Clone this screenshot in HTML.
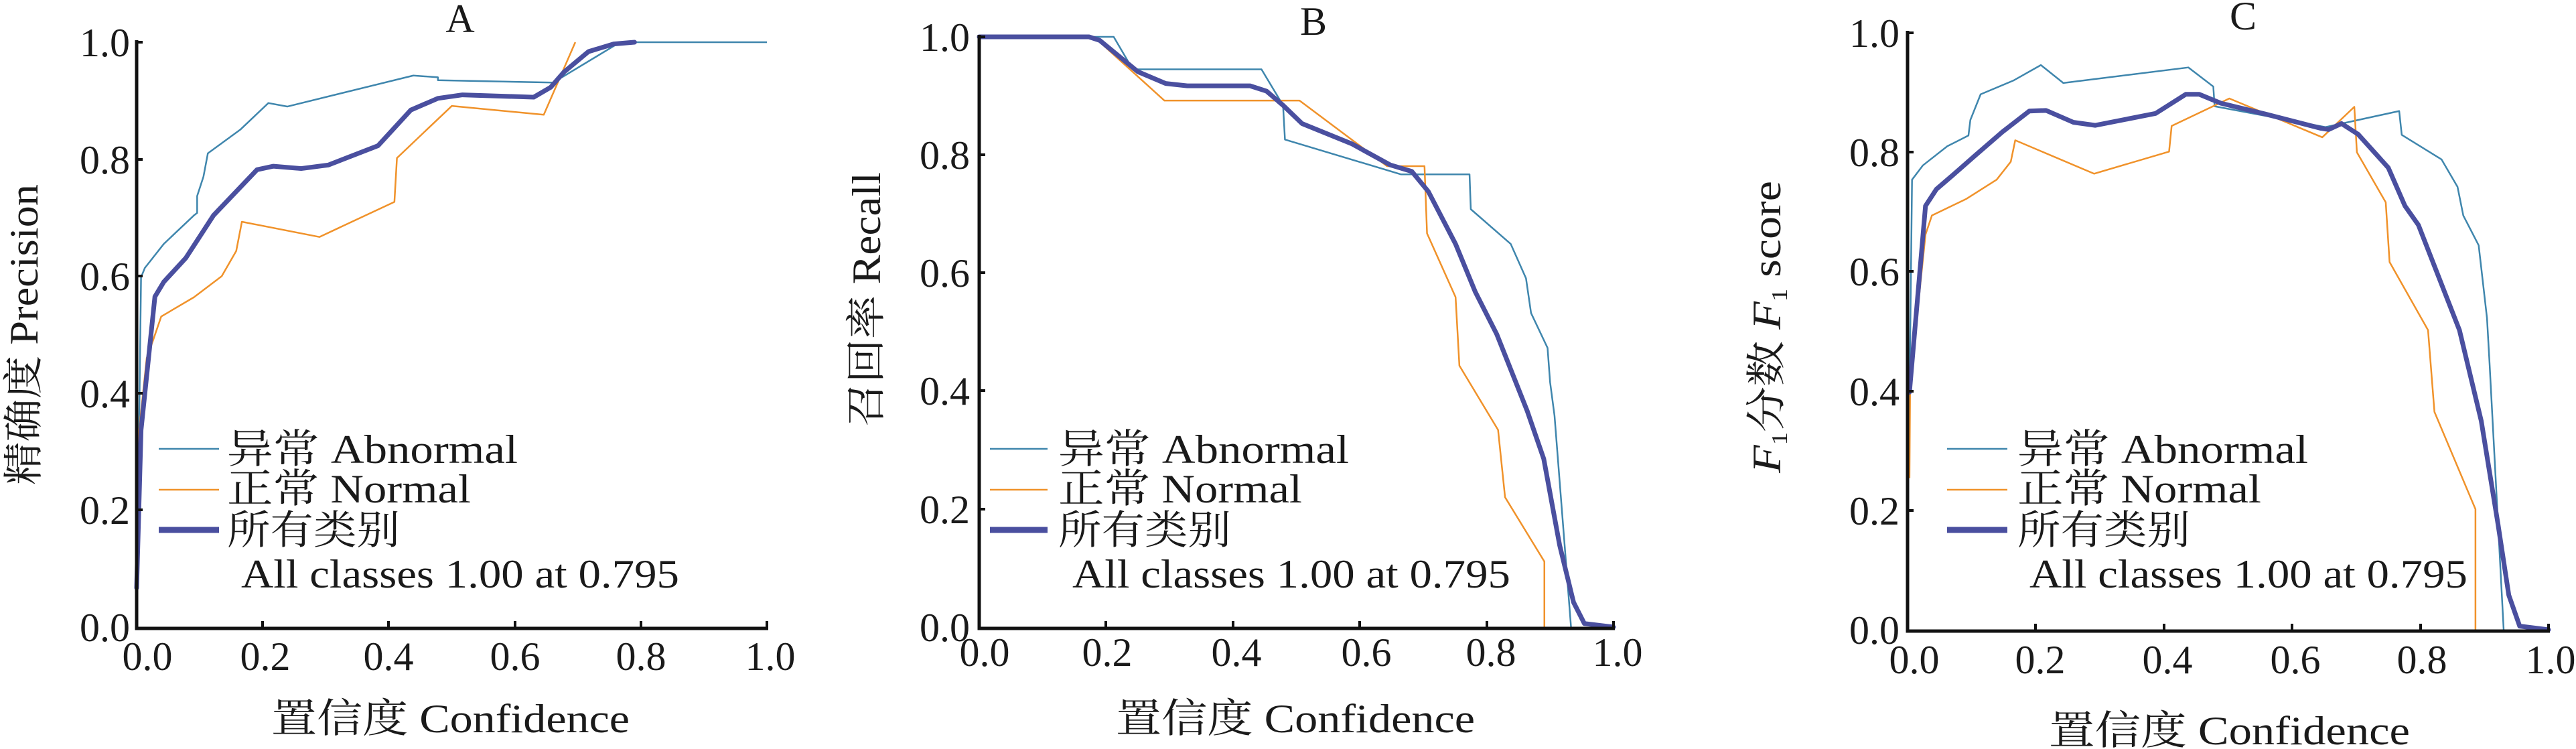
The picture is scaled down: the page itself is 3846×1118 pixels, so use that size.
<!DOCTYPE html>
<html><head><meta charset="utf-8"><style>
html,body{margin:0;padding:0;background:#fff}
svg{display:block}
text{font-family:"Liberation Serif","Noto Serif CJK SC","Noto Sans CJK SC",serif;fill:#1a1a1a}
.t{font-size:60px}
.ab{fill:none;stroke:#3f86ad;stroke-width:2.5;stroke-linejoin:round}
.no{fill:none;stroke:#f0922a;stroke-width:2.5;stroke-linejoin:round}
.al{fill:none;stroke:#4a4f9f;stroke-width:7;stroke-linejoin:round;stroke-linecap:round}
.ax{stroke:#111;stroke-width:5;fill:none}
</style></head><body>
<svg width="3846" height="1118" viewBox="0 0 3846 1118" xmlns="http://www.w3.org/2000/svg">

<!-- ===== Panel A ===== -->
<g>
<g transform="translate(204,936) scale(941,-873)">
<polyline class="ab" vector-effect="non-scaling-stroke" points="0.002,0.18 0.007,0.598 0.013,0.614 0.043,0.655 0.091,0.704 0.096,0.708 0.096,0.737 0.106,0.77 0.113,0.81 0.165,0.851 0.209,0.896 0.239,0.89 0.439,0.943 0.478,0.94 0.478,0.935 0.661,0.931 0.761,0.996 0.783,1 1,1"/>
<polyline class="no" vector-effect="non-scaling-stroke" points="0,0.09 0.004,0.337 0.016,0.46 0.026,0.49 0.039,0.531 0.091,0.564 0.135,0.6 0.158,0.643 0.167,0.693 0.29,0.667 0.409,0.727 0.413,0.802 0.5,0.891 0.646,0.876 0.696,1.0"/>
<polyline class="al" vector-effect="non-scaling-stroke" points="0,0.067 0.007,0.337 0.029,0.565 0.043,0.59 0.078,0.631 0.122,0.704 0.191,0.782 0.217,0.788 0.261,0.784 0.304,0.79 0.383,0.823 0.435,0.884 0.478,0.904 0.517,0.91 0.63,0.906 0.657,0.923 0.678,0.949 0.717,0.984 0.757,0.997 0.79,1"/>
</g>
<path class="ax" d="M204,60 V938 H1147"/>
<path stroke="#111" stroke-width="4" d="M204,63 h9 M204,238 h9 M204,412 h9 M204,587 h9 M204,761 h9 M392,936 v-9 M580,936 v-9 M769,936 v-9 M957,936 v-9 M1145,936 v-9"/>
<g class="t" text-anchor="end">
<text x="194" y="84">1.0</text><text x="194" y="259">0.8</text><text x="194" y="433">0.6</text><text x="194" y="608">0.4</text><text x="194" y="782">0.2</text><text x="194" y="957">0.0</text>
</g>
<g class="t" text-anchor="middle">
<text x="220" y="1000">0.0</text><text x="396" y="1000">0.2</text><text x="580" y="1000">0.4</text><text x="769" y="1000">0.6</text><text x="957" y="1000">0.8</text><text x="1150" y="1000">1.0</text>
<text x="687" y="48">A</text>
</g>
<g class="t">
<text x="405" y="1093" textLength="535" lengthAdjust="spacingAndGlyphs">置信度 Confidence</text>
<text transform="translate(56,724) rotate(-90)" textLength="449" lengthAdjust="spacingAndGlyphs">精确度 Precision</text>
</g>
<line x1="237" y1="670" x2="327" y2="670" stroke="#3f86ad" stroke-width="2.5"/>
<line x1="237" y1="731" x2="327" y2="731" stroke="#f0922a" stroke-width="2.5"/>
<line x1="237" y1="791" x2="327" y2="791" stroke="#4a4f9f" stroke-width="9"/>
<g class="t">
<text x="339" y="691" textLength="434" lengthAdjust="spacingAndGlyphs">异常 Abnormal</text>
<text x="339" y="750" textLength="364" lengthAdjust="spacingAndGlyphs">正常 Normal</text>
<text x="339" y="812" textLength="258" lengthAdjust="spacingAndGlyphs">所有类别</text>
<text x="360" y="877" textLength="654" lengthAdjust="spacingAndGlyphs">All classes 1.00 at 0.795</text>
</g>
</g>

<!-- ===== Panel B ===== -->
<g>
<g transform="translate(1462,936) scale(947,-881)">
<polyline class="ab" vector-effect="non-scaling-stroke" points="0,1 0.212,1 0.242,0.945 0.445,0.945 0.479,0.884 0.482,0.826 0.665,0.767 0.773,0.767 0.775,0.708 0.838,0.649 0.862,0.591 0.87,0.532 0.896,0.473 0.9,0.415 0.907,0.358 0.933,0"/>
<polyline class="no" vector-effect="non-scaling-stroke" points="0,1 0.181,1 0.292,0.892 0.505,0.892 0.643,0.781 0.702,0.781 0.706,0.667 0.751,0.559 0.757,0.443 0.818,0.334 0.829,0.22 0.891,0.111 0.891,0"/>
<polyline class="al" vector-effect="non-scaling-stroke" points="0,1 0.173,1 0.19,0.994 0.25,0.941 0.294,0.921 0.328,0.917 0.427,0.917 0.453,0.908 0.479,0.884 0.509,0.853 0.587,0.819 0.648,0.783 0.682,0.772 0.708,0.738 0.751,0.649 0.782,0.568 0.816,0.496 0.864,0.366 0.89,0.285 0.915,0.139 0.937,0.042 0.954,0.006 1,0"/>
</g>
<path class="ax" d="M1462,52 V938 H2411"/>
<path stroke="#111" stroke-width="4" d="M1462,55 h9 M1462,231 h9 M1462,407 h9 M1462,583 h9 M1462,760 h9 M1651,936 v-9 M1841,936 v-9 M2030,936 v-9 M2220,936 v-9 M2409,936 v-9"/>
<g class="t" text-anchor="end">
<text x="1448" y="76">1.0</text><text x="1448" y="252">0.8</text><text x="1448" y="428">0.6</text><text x="1448" y="604">0.4</text><text x="1448" y="781">0.2</text><text x="1448" y="957">0.0</text>
</g>
<g class="t" text-anchor="middle">
<text x="1470" y="994">0.0</text><text x="1653" y="994">0.2</text><text x="1846" y="994">0.4</text><text x="2040" y="994">0.6</text><text x="2226" y="994">0.8</text><text x="2415" y="994">1.0</text>
<text x="1961" y="52">B</text>
</g>
<g class="t">
<text x="1666" y="1093" textLength="536" lengthAdjust="spacingAndGlyphs">置信度 Confidence</text>
<text transform="translate(1314,637) rotate(-90)" textLength="380" lengthAdjust="spacingAndGlyphs">召回率 Recall</text>
</g>
<line x1="1478" y1="670" x2="1564" y2="670" stroke="#3f86ad" stroke-width="2.5"/>
<line x1="1478" y1="731" x2="1564" y2="731" stroke="#f0922a" stroke-width="2.5"/>
<line x1="1478" y1="791" x2="1564" y2="791" stroke="#4a4f9f" stroke-width="9"/>
<g class="t">
<text x="1580" y="691" textLength="434" lengthAdjust="spacingAndGlyphs">异常 Abnormal</text>
<text x="1580" y="750" textLength="364" lengthAdjust="spacingAndGlyphs">正常 Normal</text>
<text x="1580" y="812" textLength="258" lengthAdjust="spacingAndGlyphs">所有类别</text>
<text x="1601" y="877" textLength="654" lengthAdjust="spacingAndGlyphs">All classes 1.00 at 0.795</text>
</g>
</g>

<!-- ===== Panel C ===== -->
<g>
<g transform="translate(2848,940) scale(957,-891)">
<polyline class="ab" vector-effect="non-scaling-stroke" points="0.003,0.382 0.007,0.754 0.024,0.778 0.062,0.81 0.095,0.828 0.098,0.854 0.114,0.897 0.165,0.92 0.208,0.946 0.243,0.916 0.438,0.942 0.477,0.91 0.479,0.877 0.652,0.842 0.767,0.869 0.771,0.829 0.833,0.788 0.858,0.742 0.867,0.694 0.891,0.644 0.904,0.522 0.908,0.446 0.93,0"/>
<polyline class="no" vector-effect="non-scaling-stroke" points="0.003,0.254 0.004,0.414 0.028,0.662 0.038,0.694 0.092,0.722 0.139,0.754 0.161,0.784 0.168,0.82 0.291,0.764 0.408,0.801 0.412,0.844 0.502,0.89 0.647,0.825 0.697,0.876 0.701,0.8 0.746,0.716 0.752,0.616 0.812,0.502 0.822,0.365 0.886,0.202 0.886,0"/>
<polyline class="al" vector-effect="non-scaling-stroke" points="0.003,0.398 0.028,0.71 0.045,0.738 0.071,0.762 0.105,0.794 0.148,0.834 0.19,0.869 0.216,0.87 0.259,0.85 0.293,0.845 0.387,0.865 0.434,0.897 0.455,0.897 0.489,0.882 0.558,0.864 0.645,0.84 0.657,0.838 0.677,0.848 0.703,0.83 0.75,0.774 0.776,0.71 0.797,0.678 0.861,0.502 0.895,0.35 0.921,0.178 0.938,0.058 0.955,0.006 1,0"/>
</g>
<path class="ax" d="M2848,46 V942 H3807"/>
<path stroke="#111" stroke-width="4" d="M2848,49 h9 M2848,227 h9 M2848,405 h9 M2848,584 h9 M2848,762 h9 M3039,940 v-9 M3231,940 v-9 M3422,940 v-9 M3614,940 v-9 M3805,940 v-9"/>
<g class="t" text-anchor="end">
<text x="2836" y="70">1.0</text><text x="2836" y="248">0.8</text><text x="2836" y="426">0.6</text><text x="2836" y="605">0.4</text><text x="2836" y="783">0.2</text><text x="2836" y="961">0.0</text>
</g>
<g class="t" text-anchor="middle">
<text x="2858" y="1005">0.0</text><text x="3046" y="1005">0.2</text><text x="3236" y="1005">0.4</text><text x="3427" y="1005">0.6</text><text x="3616" y="1005">0.8</text><text x="3808" y="1005">1.0</text>
<text x="3349" y="44">C</text>
</g>
<g class="t">
<text x="3059" y="1111" textLength="539" lengthAdjust="spacingAndGlyphs">置信度 Confidence</text>
<text transform="translate(2658,706) rotate(-90)" textLength="436" lengthAdjust="spacingAndGlyphs"><tspan font-style="italic">F</tspan><tspan font-size="34" dy="10">1</tspan><tspan dy="-10">分数 </tspan><tspan font-style="italic">F</tspan><tspan font-size="34" dy="10">1</tspan><tspan dy="-10"> score</tspan></text>
</g>
<line x1="2907" y1="670" x2="2997" y2="670" stroke="#3f86ad" stroke-width="2.5"/>
<line x1="2907" y1="731" x2="2997" y2="731" stroke="#f0922a" stroke-width="2.5"/>
<line x1="2907" y1="791" x2="2997" y2="791" stroke="#4a4f9f" stroke-width="9"/>
<g class="t">
<text x="3012" y="691" textLength="434" lengthAdjust="spacingAndGlyphs">异常 Abnormal</text>
<text x="3012" y="750" textLength="364" lengthAdjust="spacingAndGlyphs">正常 Normal</text>
<text x="3012" y="812" textLength="258" lengthAdjust="spacingAndGlyphs">所有类别</text>
<text x="3030" y="877" textLength="654" lengthAdjust="spacingAndGlyphs">All classes 1.00 at 0.795</text>
</g>
</g>
</svg>
</body></html>
